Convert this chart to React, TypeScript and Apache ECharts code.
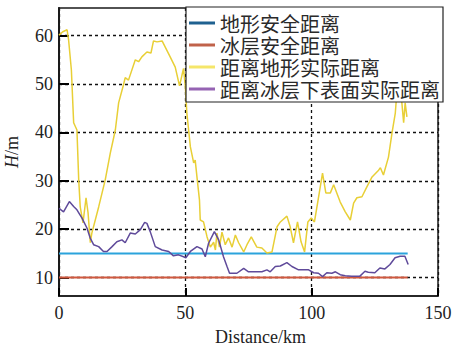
import React, { useEffect, useRef } from "react";
import * as echarts from "echarts";

const seriesNames = ["地形安全距离", "冰层安全距离", "距离地形实际距离", "距离冰层下表面实际距离"];

const terrainSafe: [number, number][] = [[0, 15], [138, 15]];
const iceSafe: [number, number][] = [[0, 10], [138, 10]];

const terrainActual: [number, number][] = [
  [0, 60.1], [1.5, 60.8], [3.2, 61.2], [3.8, 59.1], [4.9, 52.9], [5.8, 42], [7.1, 40.5], [7.8, 30.2],
  [8.4, 24.6], [9.5, 21.3], [10.7, 26.5], [11.5, 23.4], [12.4, 17.2], [13, 19.2], [15.7, 24.6],
  [18.3, 30.2], [20.3, 35.7], [22.3, 40.5], [23.6, 46.1], [25.5, 49.8], [26.2, 51.3], [27.5, 50.8],
  [30.2, 55], [31.5, 54.6], [32.8, 55.6], [34.8, 56.6], [36.4, 56.4], [37.4, 58.9], [38.8, 58.7],
  [40.8, 58.9], [44, 55.6], [46, 53.5], [47.7, 49.6], [48.7, 51.9], [49.3, 53.2], [50, 49.4],
  [50.6, 44], [52, 37], [53.3, 33.7], [53.9, 34.3], [54.6, 30.8], [55.6, 26], [55.9, 21.9],
  [57.2, 21.5], [58.6, 18.4], [59.9, 16.3], [61.2, 17.3], [61.9, 15.7], [62.5, 19.2], [63.5, 16.3],
  [64.5, 19.4], [65.8, 16.8], [67.1, 18.2], [68.5, 16.3], [69.8, 18.8], [71.1, 17.2], [73.1, 15.3],
  [74.4, 16.8], [76.1, 18.4], [78.3, 16.3], [80.3, 16.1], [82.3, 15.1], [84.3, 15.3], [86.3, 20.5],
  [87.6, 21.5], [90.2, 22.7], [91.5, 20.5], [92.8, 17.2], [94.4, 21.5], [95.8, 17.4], [97.2, 15.3],
  [98.5, 21.5], [99.8, 22.3], [101.1, 21.5], [102.7, 26.5], [104.3, 31.6], [105.6, 27.5],
  [107.4, 27.5], [108.7, 29.2], [111.3, 25.6], [113.3, 23.6], [115.3, 21.9], [116.6, 25.4],
  [117.9, 26.5], [119.9, 26.7], [121.9, 28.8], [123.9, 30.8], [126.5, 32.2], [127.2, 32.7],
  [128.4, 31.2], [130.4, 34.9], [131.8, 39.9], [133.1, 44], [133.8, 48.8], [134.5, 54], [135.1, 50],
  [135.7, 46.1], [136.4, 42], [137, 46.1], [137.7, 43.2],
];

const iceActual: [number, number][] = [
  [0, 24.3], [1.8, 23.6], [4.1, 25.7], [5.8, 24.7], [7.1, 24], [9.1, 22.3], [11.1, 20.2], [12.4, 18.1],
  [13.7, 16.8], [15.7, 16.4], [17.6, 15.4], [19, 15.4], [21, 16.4], [22.9, 17.4], [24.9, 17.8],
  [26.2, 17.2], [28.2, 19.2], [30.2, 19], [32.2, 19.9], [33.9, 21.4], [34.8, 21.2], [36.1, 19.5],
  [38.1, 16.4], [40.8, 15.7], [43.4, 15.4], [45.3, 14.5], [47.3, 14.7], [49.3, 14.3], [50.2, 14.1],
  [52, 15.4], [54.6, 16.4], [56.6, 15.9], [57.9, 14.3], [59.2, 17.1], [61.5, 19.5], [63.2, 17.8],
  [65.1, 14.3], [66.5, 12.3], [67.5, 10.9], [70.4, 10.9], [73.1, 11.9], [75, 11.2], [77.7, 11.2],
  [80.3, 11.2], [82.3, 11.6], [83.6, 11.2], [85.6, 12.3], [87.6, 12.4], [90.2, 13.1], [92.2, 12.3],
  [94.8, 11.6], [98.8, 11.6], [100.8, 11], [102.7, 10.9], [104.3, 10.2], [106, 11], [108, 10.9],
  [109.4, 11.2], [111.3, 10.6], [113.3, 10.4], [115.8, 10.3], [119.1, 10.3], [121.1, 11.3],
  [122.4, 11.1], [125, 11], [127, 12], [129, 11.8], [131, 12.7], [133, 14.1], [135, 14.4],
  [136.9, 14.4], [138.2, 12.7],
];

const yTicks = [10, 20, 30, 40, 50, 60];

const lineColors = ["#2ba3dc", "#d0583e", "#e8cf36", "#5f4a9a"];
const legendColors = ["#1f6190", "#c0624a", "#f5e66a", "#9563b3"];

const serif = "Liberation Serif";

export default function App() {
  const ref = useRef<HTMLDivElement>(null);
  useEffect(() => {
    if (!ref.current) return;
    const chart = echarts.init(ref.current, undefined, { renderer: "svg" });
    const datasets = [terrainSafe, iceSafe, terrainActual, iceActual];
    chart.setOption({
      animation: false,
      backgroundColor: "#fff",
      textStyle: { fontFamily: serif },
      grid: {
        left: 59,
        right: 18,
        top: 8,
        bottom: 50,
        show: true,
        borderColor: "#1a1a1a",
        borderWidth: 1.5,
        backgroundColor: "transparent",
        containLabel: false,
        outerBoundsMode: "none",
      },
      legend: {
        orient: "vertical",
        left: 186,
        top: 7,
        padding: [6, 3, 3, 3],
        itemGap: 2,
        itemWidth: 26,
        itemHeight: 3,
        backgroundColor: "#fff",
        borderColor: "#222",
        borderWidth: 1.2,
        borderRadius: 0,
        selectedMode: false,
        textStyle: {
          fontFamily: "Noto Sans CJK SC",
          fontSize: 20,
          lineHeight: 20,
          color: "#2a2a2a",
        },
        data: seriesNames.map((n, i) => ({
          name: n,
          icon: "rect",
          itemStyle: { color: legendColors[i] },
        })),
      },
      xAxis: {
        type: "value",
        min: 0,
        max: 150,
        interval: 50,
        name: "Distance/km",
        nameLocation: "middle",
        nameGap: 27,
        nameTextStyle: { fontFamily: serif, fontSize: 18, lineHeight: 20, color: "#222", padding: [0, 0, 0, 24] },
        axisLine: { show: true, lineStyle: { color: "#1a1a1a", width: 1.5 } },
        axisTick: { show: true, inside: true, length: 8, lineStyle: { color: "#000", width: 2 } },
        axisLabel: { fontFamily: serif, fontSize: 18, color: "#222", margin: 8 },
        splitLine: {
          show: true,
          lineStyle: { color: "#111", type: [3, 3], width: 1.3 },
        },
      },
      yAxis: {
        type: "value",
        min: 6.2,
        max: 65.7,
        name: "{i|H}/m",
        nameLocation: "middle",
        nameGap: 38,
        nameRotate: 90,
        nameTextStyle: {
          fontFamily: serif,
          fontSize: 18,
          color: "#222",
          rich: {
            i: { fontFamily: serif, fontSize: 18, fontStyle: "italic", color: "#222" },
          },
        },
        axisLine: { show: true, lineStyle: { color: "#1a1a1a", width: 2 } },
        axisTick: {
          show: true,
          inside: true,
          length: 10,
          customValues: yTicks,
          lineStyle: { color: "#000", width: 2 },
        },
        axisLabel: { fontFamily: serif, fontSize: 18, color: "#222", margin: 6, customValues: yTicks },
        splitLine: {
          show: true,
          lineStyle: { color: "#111", type: [3, 3], width: 1.3 },
        },
      },
      series: datasets.map((d, i) => ({
        name: seriesNames[i],
        type: "line",
        data: d,
        symbol: "none",
        smooth: false,
        lineStyle: { color: lineColors[i], width: i < 2 ? 2 : 1.5 },
        itemStyle: { color: lineColors[i] },
        z: 2 + (i === 3 ? 1 : 0),
      })),
    });
    return () => chart.dispose();
  }, []);
  return <div ref={ref} style={{ width: 456, height: 346, position: "fixed", left: 0, top: 0 }} />;
}
